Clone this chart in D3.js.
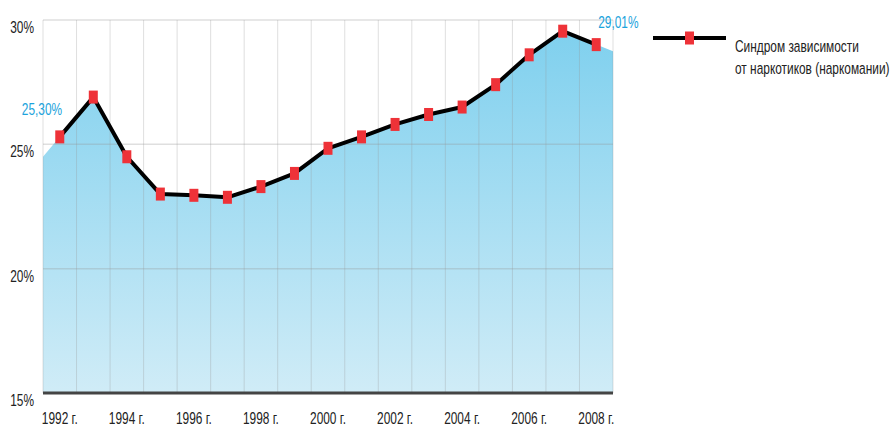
<!DOCTYPE html>
<html>
<head>
<meta charset="utf-8">
<script src="https://cdn.jsdelivr.net/npm/d3@7"></script>
<style>
  body { margin: 0; background: #fff; }
  text { font-family: "Liberation Sans", Arial, sans-serif; font-size: 17px; }
</style>
</head>
<body>
<svg id="chart" width="893" height="426"></svg>
<script>
let years = [1992, 1993, 1994, 1995, 1996, 1997, 1998, 1999, 2000, 2001, 2002, 2003, 2004, 2005, 2006, 2007, 2008]
let values = [25.30, 26.9, 24.5, 23.0, 22.95, 22.87, 23.3, 23.83, 24.84, 25.3, 25.8, 26.2, 26.5, 27.4, 28.6, 29.55, 29.01]
let yTicks = [15, 20, 25, 30]
let xLabelYears = [1992, 1994, 1996, 1998, 2000, 2002, 2004, 2006, 2008]
let seriesName = ["Синдром зависимости", "от наркотиков (наркомании)"]

let svg = d3.select("#chart")

let margin = { top: 20, left: 43 }
let width = 570
let height = 373
let narrow = 0.7   // the original uses a condensed face

let data = years.map((y, i) => ({ year: y, value: values[i] }))

let xScale = d3.scaleBand()
    .domain(years)
    .range([0, width])

let yScale = d3.scaleLinear()
    .domain([15, 30])
    .range([height, 0])

let cx = d => xScale(d) + xScale.bandwidth() / 2
let place = (x, y) => "translate(" + x + "," + y + ") scale(" + narrow + ",1)"

let defs = svg.append("defs")
let grad = defs.append("linearGradient")
    .attr("id", "fill-grad")
    .attr("x1", 0).attr("y1", 0)
    .attr("x2", 0).attr("y2", 1)
grad.append("stop").attr("offset", "0%").attr("stop-color", "#7fd0ee")
grad.append("stop").attr("offset", "100%").attr("stop-color", "#d0ecf7")

let g = svg.append("g")
    .attr("transform", "translate(" + margin.left + "," + margin.top + ")")

// area runs to the edges of the plot, continuing the first and last segments
let n = data.length
let half = xScale.bandwidth() / 2
let step = xScale.step()
let leftVal = values[0] - (values[1] - values[0]) * half / step
let rightVal = values[n - 1] + (values[n - 1] - values[n - 2]) * half / step
let areaPts = [{ x: 0, v: leftVal }]
    .concat(data.map(d => ({ x: cx(d.year), v: d.value })))
    .concat([{ x: width, v: rightVal }])

let area = d3.area()
    .x(d => d.x)
    .y0(height)
    .y1(d => yScale(d.v))

g.append("path")
    .datum(areaPts)
    .attr("d", area)
    .style("fill", "url(#fill-grad)")

// grid
let bounds = years.map(y => xScale(y)).concat([width])
g.selectAll(".vgrid")
    .data(bounds)
    .enter().append("line")
        .attr("x1", d => d).attr("x2", d => d)
        .attr("y1", 0).attr("y2", height)
        .style("stroke", "rgba(150,150,150,0.3)")
        .style("stroke-width", 1)

g.selectAll(".hgrid")
    .data(yTicks.slice(1))
    .enter().append("line")
        .attr("x1", 0).attr("x2", width)
        .attr("y1", d => yScale(d)).attr("y2", d => yScale(d))
        .style("stroke", "rgba(150,150,150,0.3)")
        .style("stroke-width", 1.5)

// bottom axis line
g.append("line")
    .attr("x1", 0).attr("x2", width)
    .attr("y1", height).attr("y2", height)
    .style("stroke", "#444")
    .style("stroke-width", 3)

// y labels
g.selectAll(".ylab")
    .data(yTicks)
    .enter().append("text")
        .attr("transform", d => place(-9, yScale(d) + 13))
        .style("text-anchor", "end")
        .style("fill", "#222")
        .text(d => d + "%")

// x labels
g.selectAll(".xlab")
    .data(xLabelYears)
    .enter().append("text")
        .attr("transform", d => place(cx(d), height + 31))
        .style("text-anchor", "middle")
        .style("fill", "#222")
        .text(d => d + " г.")

// line
let line = d3.line()
    .x(d => cx(d.year))
    .y(d => yScale(d.value))

g.append("path")
    .datum(data)
    .attr("d", line)
    .style("fill", "none")
    .style("stroke", "#000")
    .style("stroke-width", 4)
    .style("stroke-linejoin", "round")

g.selectAll(".marker")
    .data(data)
    .enter().append("rect")
        .attr("x", d => cx(d.year) - 4.5)
        .attr("y", d => yScale(d.value) - 6.5)
        .attr("width", 9)
        .attr("height", 13)
        .style("fill", "#ee3238")

// value callouts
let fmt = v => v.toFixed(2).replace(".", ",") + "%"
g.append("text")
    .attr("transform", place(cx(years[0]) - 38, yScale(values[0]) - 22))
    .style("fill", "#1ba3dc")
    .text(fmt(values[0]))

g.append("text")
    .attr("transform", place(cx(years[n - 1]) + 2, yScale(values[n - 1]) - 17))
    .style("fill", "#1ba3dc")
    .text(fmt(values[n - 1]))

// legend
let lg = svg.append("g").attr("transform", "translate(653,38)")
lg.append("line")
    .attr("x1", 0).attr("x2", 73)
    .attr("y1", 0).attr("y2", 0)
    .style("stroke", "#000")
    .style("stroke-width", 4)
lg.append("rect")
    .attr("x", 32).attr("y", -6.5)
    .attr("width", 9).attr("height", 13)
    .style("fill", "#ee3238")
lg.selectAll(".ltxt")
    .data(seriesName)
    .enter().append("text")
        .attr("transform", (d, i) => place(82, 14 + i * 22))
        .style("fill", "#222")
        .text(d => d)
</script>
</body>
</html>
